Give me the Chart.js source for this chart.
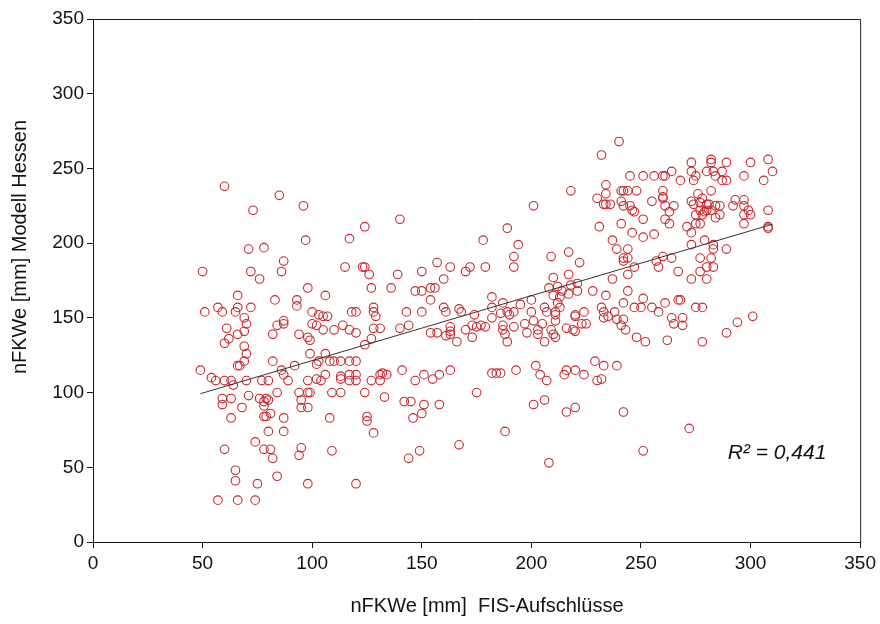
<!DOCTYPE html>
<html>
<head>
<meta charset="utf-8">
<script src="https://cdn.jsdelivr.net/npm/chart.js@4"></script>
<style>
  body { margin: 0; background: #fff; }
  #wrap { width: 880px; height: 624px; }
</style>
</head>
<body>
<div id="wrap"><canvas id="chart" width="880" height="624"></canvas></div>
<script>
// nFKWe scatter: FIS-Aufschlüsse vs Modell Hessen

const xValues = [
  60, 85, 73, 71, 78, 87, 50, 72, 86, 76, 66, 83, 57, 66, 72, 51, 59, 65, 69, 87,
  70, 84, 87, 61, 69, 66, 82, 62, 60, 69, 70, 69, 67, 66, 82, 86, 87, 49, 54, 56,
  60, 63, 64, 70, 77, 80, 89, 71, 84, 59, 59, 63, 76, 78, 79, 80, 78, 68, 63, 78,
  79, 81, 87, 80, 87, 60, 74, 78, 81, 82, 65, 65, 75, 84, 57, 66, 74,
  96, 140, 124, 97, 117, 178, 115, 123, 124, 126, 139, 150, 157, 163, 172, 170, 179, 160, 98, 127,
  136, 147, 150, 154, 156, 106, 93, 93, 154, 100, 103, 105, 107, 118, 120, 128, 128, 129, 143, 150,
  160, 161, 167, 168, 174,
  102, 100, 105, 110, 114, 117, 120, 128, 131, 127, 124, 140, 144, 154, 157, 161, 163, 163, 166, 163,
  170, 173, 175, 177, 179, 173, 94, 98, 99, 99, 106, 102, 103, 92, 108, 110, 113, 117, 120, 106,
  102, 104, 98, 113, 113, 117, 120, 117, 120, 127, 131, 132, 134, 131, 141, 147, 151, 155, 158, 163,
  94, 98, 99, 95, 109, 113, 124, 133, 142, 145, 151, 158, 175, 95, 98, 108, 125, 125, 146, 150,
  128, 95, 94, 109, 144, 149, 167, 98, 120,
  240, 232, 218, 201, 189, 194, 192, 192, 209, 217, 222, 210, 217, 208, 212, 214, 218, 221, 217, 221,
  228, 213, 212, 213, 211, 210, 200, 195, 187, 182, 182, 189, 192, 190, 186, 200, 206, 207, 211, 220,
  224, 232, 233, 238, 233, 242, 247, 250, 251, 255, 261, 258, 267, 268, 269, 264, 237, 244, 244, 234,
  242, 242, 244, 247, 258, 257, 260, 264, 267, 237, 239, 244, 231, 241, 246, 251, 251, 256, 261, 263,
  271, 230, 233, 234, 236, 241, 242, 245, 246, 247, 255, 260, 261, 263, 265, 234, 234, 241, 242, 244,
  248, 245, 251, 256, 260, 261, 264, 268, 260, 260,
  187, 187, 188, 189, 192, 197, 198, 201, 203, 203, 205, 206, 209, 210, 211, 211, 216, 219, 220, 220,
  223, 225, 235, 239, 241, 243, 242, 248, 252, 262, 265, 269, 182, 184, 186, 193, 202, 204, 207, 215,
  216, 220, 224, 229, 233, 239, 230, 232, 201, 206, 216, 220, 242, 188, 272, 251, 208, 182,
  294, 301, 289, 278,
  308, 300, 289, 282, 282, 273, 310, 306, 297, 287, 283, 284, 287, 289, 280, 275, 274, 273, 282, 276,
  278, 273, 274, 277, 280, 281, 284, 286, 277, 279, 280, 275, 278, 282, 284, 286, 292, 293, 297, 297,
  299, 300, 297, 308, 308, 308, 275, 277, 297, 273, 273, 279, 283, 289, 283, 282, 277, 280, 283, 277,
  273, 280, 275, 278
];

const yValues = [
  238, 232, 222, 196, 197, 188, 181, 181, 181, 176, 165, 162, 157, 157, 157, 154, 154, 154, 150, 148,
  146, 145, 146, 143, 141, 139, 139, 136, 133, 131, 126, 121, 118, 118, 121, 115, 112, 115, 110, 108,
  108, 108, 105, 108, 108, 108, 108, 98, 100, 96, 92, 96, 96, 94, 96, 95, 91, 90, 83, 84,
  84, 86, 83, 74, 74, 62, 67, 62, 62, 56, 48, 41, 39, 44, 28, 28, 28,
  225, 216, 211, 202, 203, 202, 184, 184, 184, 179, 179, 181, 187, 184, 184, 181, 184, 176, 170, 170,
  170, 168, 168, 170, 170, 165, 162, 158, 162, 154, 152, 151, 151, 154, 154, 157, 154, 151, 154, 154,
  157, 154, 156, 154, 152,
  145, 146, 142, 142, 145, 142, 140, 143, 143, 136, 132, 143, 145, 140, 140, 138, 139, 141, 134, 144,
  142, 145, 144, 145, 144, 137, 139, 137, 135, 126, 126, 119, 121, 118, 121, 121, 121, 121, 121, 112,
  109, 108, 108, 111, 109, 112, 112, 108, 108, 108, 112, 113, 112, 108, 115, 108, 112, 109, 112, 115,
  100, 100, 100, 95, 100, 100, 100, 97, 94, 94, 92, 92, 100, 90, 90, 83, 84, 81, 83, 86,
  73, 63, 58, 61, 56, 61, 65, 39, 39,
  268, 259, 235, 225, 210, 199, 191, 184, 191, 194, 187, 177, 179, 170, 171, 168, 172, 173, 166, 168,
  168, 164, 160, 157, 154, 165, 162, 159, 160, 164, 157, 154, 154, 152, 153, 154, 157, 154, 152, 152,
  154, 157, 154, 154, 150, 160, 157, 157, 163, 157, 160, 154, 162, 162, 150, 150, 176, 179, 168, 165,
  190, 188, 190, 184, 184, 188, 191, 190, 181, 202, 196, 196, 211, 213, 207, 204, 216, 206, 216, 213,
  211, 230, 226, 226, 226, 228, 225, 225, 222, 221, 228, 230, 225, 221, 225, 239, 233, 235, 235, 235,
  235, 245, 245, 245, 245, 245, 248, 242, 235, 231,
  145, 142, 139, 134, 144, 146, 140, 148, 142, 139, 146, 134, 142, 139, 137, 148, 143, 142, 141, 151,
  146, 146, 151, 149, 145, 142, 149, 137, 134, 135, 146, 145, 113, 113, 113, 115, 118, 112, 108, 112,
  115, 115, 112, 121, 118, 118, 108, 109, 92, 95, 87, 90, 87, 74, 76, 61, 53, 150,
  147, 151, 140, 134,
  256, 254, 254, 256, 254, 254, 248, 242, 245, 248, 248, 245, 242, 242, 248, 245, 242, 248, 235, 233,
  230, 228, 226, 227, 226, 226, 225, 225, 222, 221, 222, 219, 219, 222, 217, 219, 225, 229, 229, 225,
  222, 219, 219, 222, 211, 210, 213, 213, 213, 207, 199, 202, 199, 196, 196, 190, 190, 184, 184, 181,
  176, 176, 157, 157
];

const xTicks = [0, 50, 100, 150, 200, 250, 300, 350];
const yTicks = [0, 50, 100, 150, 200, 250, 300, 350];

const xTitle = 'nFKWe [mm]  FIS-Aufschlüsse';
const yTitle = 'nFKWe [mm] Modell Hessen';
const r2Label = 'R² = 0,441';

// lineare Trendlinie (kleinste Quadrate)
function trendLine(xs, ys) {
  const n = xs.length;
  let sx = 0, sy = 0, sxx = 0, sxy = 0;
  for (let i = 0; i < n; i++) {
    sx += xs[i]; sy += ys[i]; sxx += xs[i] * xs[i]; sxy += xs[i] * ys[i];
  }
  const b = (n * sxy - sx * sy) / (n * sxx - sx * sx);
  const a = (sy - b * sx) / n;
  const x0 = Math.min(...xs), x1 = Math.max(...xs);
  return [{ x: x0, y: a + b * x0 }, { x: x1, y: a + b * x1 }];
}

const points = xValues.map((x, i) => ({ x: x, y: yValues[i] }));

// Rahmen oben/rechts + Achsentitel + R²
const decorPlugin = {
  id: 'decor',
  afterDraw(chart) {
    const ctx = chart.ctx;
    const a = chart.chartArea;
    ctx.save();
    ctx.strokeStyle = '#222';
    ctx.lineWidth = 1;
    ctx.beginPath();
    ctx.moveTo(a.left, a.top + 0.5);
    ctx.lineTo(a.right + 0.5, a.top + 0.5);
    ctx.lineTo(a.right + 0.5, a.bottom);
    ctx.stroke();

    ctx.fillStyle = '#111';
    ctx.textAlign = 'center';
    ctx.textBaseline = 'middle';
    ctx.font = '20px "Liberation Sans", Arial, sans-serif';
    ctx.fillText(xTitle, 487, 606);

    ctx.translate(20, 247);
    ctx.rotate(-Math.PI / 2);
    ctx.fillText(yTitle, 0, 0);
    ctx.restore();

    ctx.save();
    ctx.fillStyle = '#111';
    ctx.font = 'italic 21px "Liberation Sans", Arial, sans-serif';
    ctx.textAlign = 'center';
    ctx.textBaseline = 'middle';
    ctx.fillText(r2Label, 777, 453);
    ctx.restore();
  }
};

function axisOptions(ticks, isX) {
  return {
    type: 'linear',
    min: ticks[0],
    max: ticks[ticks.length - 1],
    afterBuildTicks: (scale) => { scale.ticks = ticks.map(v => ({ value: v })); },
    afterFit: (scale) => {
      if (isX) scale.height = 82; else scale.width = 93;
    },
    ticks: {
      color: '#111',
      padding: isX ? 4 : 3,
      font: { family: '"Liberation Sans", Arial, sans-serif', size: 19 }
    },
    grid: {
      drawOnChartArea: false,
      drawTicks: true,
      tickLength: 6,
      color: '#111'
    },
    border: { color: '#111', width: 1 }
  };
}

function initChart() {
  const ctx = document.getElementById('chart').getContext('2d');
  new Chart(ctx, {
    type: 'scatter',
    data: {
      datasets: [
        {
          label: 'nFKWe',
          data: points,
          pointStyle: 'circle',
          pointRadius: 4.3,
          borderColor: '#c8282d',
          backgroundColor: 'rgba(0,0,0,0)',
          borderWidth: 1.1,
          order: 2
        },
        {
          label: 'Trend',
          data: trendLine(xValues, yValues),
          showLine: true,
          borderColor: '#333',
          borderWidth: 1,
          pointRadius: 0,
          order: 1
        }
      ]
    },
    options: {
      responsive: false,
      animation: false,
      layout: { padding: { top: 19, right: 19, left: 0, bottom: 0 } },
      plugins: {
        legend: { display: false },
        tooltip: { enabled: false }
      },
      scales: {
        x: axisOptions(xTicks, true),
        y: axisOptions(yTicks, false)
      }
    },
    plugins: [decorPlugin]
  });
}

window.addEventListener('DOMContentLoaded', () => {
  initChart();
});
</script>
</body>
</html>
